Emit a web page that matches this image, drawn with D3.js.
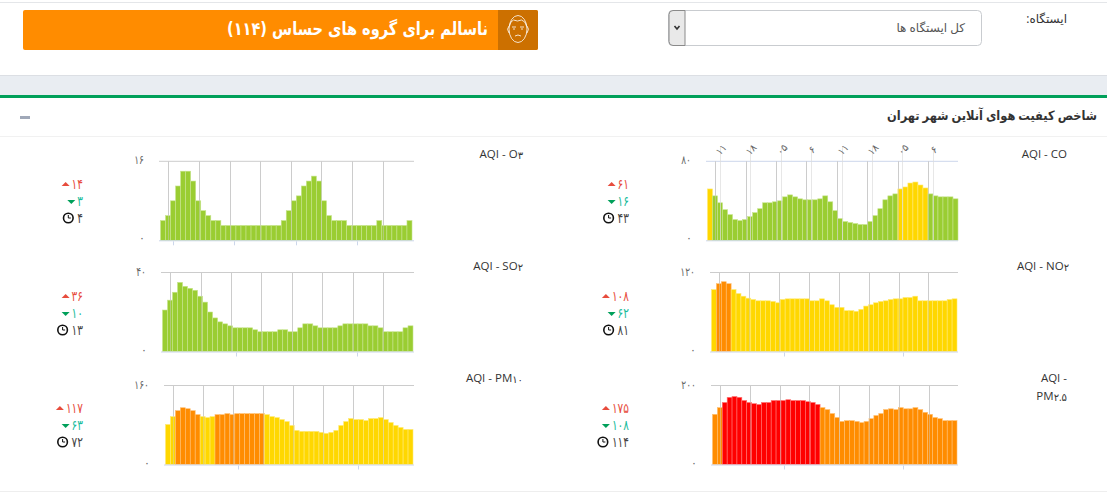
<!DOCTYPE html>
<html><head><meta charset="utf-8">
<script src="https://cdn.jsdelivr.net/npm/d3@7"></script>
<style>
html,body{margin:0;padding:0;background:#fff;overflow:hidden}
svg{display:block}
text{font-family:"Open Sans","Noto Sans","DejaVu Sans",sans-serif}
</style></head><body><svg id="c" width="1107" height="493"></svg>
<script>
const G="#9acd32",Y="#ffd700",O="#ff8c00",R="#ff0000";
const colorOf=(bands,i)=>{for(const b of bands){if(i>=b[0]&&i<=b[1])return b[2];}return null;};

const coValues=[52,45,38,31,26,21,20,21,24,28,32,38,38,39,40,44,46,44,42,41,41,41,42,45,39,30,22,19,18,17,16,16,19,25,32,41,45,47,52,54,58,59,56,53,47,45,44,44,44,42];
const coBands=[[0,0,Y],[38,43,Y]];
const no2Values=[94,103,106,103,94,88,84,81,79,77,77,77,76,74,79,80,80,80,80,80,77,77,80,77,71,67,67,62,62,61,64,69,71,74,76,77,79,80,80,82,82,84,77,77,77,77,77,77,79,80];
const no2Bands=[[1,3,O]];
const pmValues=[127,144,157,170,172,170,162,157,154,152,157,157,162,162,162,164,162,162,162,159,157,152,144,139,129,119,109,111,111,109,106,109,116,124,129,139,141,139,144,141,141,144,139,132,127,119,116,111,111,111];
const pmBands=[[0,1,O],[2,21,R],[22,49,O]];
const o3Values=[4,5,8,11,14,14,12,8,6,5,4,4,3,3,3,3,3,3,3,3,3,3,3,3,4,6,8,9,11,12,13,12,8,5,4,4,4,3,3,3,3,3,3,4,3,3,3,3,3,4];
const so2Values=[21,26,30,35,33,32,31,28,25,20,17,15,14,13,12,12,12,12,11,10,10,10,10,11,11,10,10,12,14,14,13,12,12,12,12,13,14,14,14,14,14,13,13,12,10,10,10,10,12,13];
const pm10Values=[81,97,109,115,113,109,101,97,95,97,101,101,103,101,103,103,103,103,103,103,101,97,95,91,87,79,69,67,67,67,67,65,63,65,69,79,87,93,91,91,89,93,93,95,91,85,79,75,71,71];
const pm10Bands=[[2,6,O],[10,19,O]];

const charts=[
 {lab:[["AQI - CO",""]],vals:coValues,max:80,maxT:"۸۰",bands:coBands,base:G,x0:707.5,x1:958,t:161.3,b:240.3,ax0:706,ax1:958,topCol:"#ccd6eb",stats:["۶۱","۱۶","۴۳"],sx:629,sy:184,ly:158,lx:1067,grid:[715.5,746.5,776.5,806.5,837.5,867.5,898.5,928.5],ticks:[]},
 {lab:[["AQI - NO","۲"]],vals:no2Values,max:120,maxT:"۱۲۰",bands:no2Bands,base:Y,x0:711.5,x1:957,t:272.5,b:351.5,ax0:710,ax1:958,topCol:"#cccccc",stats:["۱۰۸","۶۲","۸۱"],sx:629,sy:296,ly:270,lx:1069,grid:[719.5,749.5,779.5,809.5,839.5,869.5,899.5,928.5],ticks:[784.5,903.5]},
 {lab:[["AQI -",""],["PM","۲.۵"]],vals:pmValues,max:200,maxT:"۲۰۰",bands:pmBands,base:O,x0:712.5,x1:957,t:385.5,b:464.5,ax0:711,ax1:958,topCol:"#cccccc",stats:["۱۷۵","۱۰۸","۱۱۴"],sx:629,sy:408,ly:382,lx:1067,grid:[720.5,750.5,780.5,809.5,839.5,869.5,899.5,929.5],ticks:[784.5,903.5]},
 {lab:[["AQI - O","۳"]],vals:o3Values,max:16,maxT:"۱۶",bands:[],base:G,x0:160.5,x1:412,t:161.3,b:240.3,ax0:159,ax1:414,topCol:"#cccccc",stats:["۱۴","۳","۴"],sx:83,sy:184,ly:158,lx:523,grid:[168.5,199.5,230.5,260.5,291.5,321.5,352.5,383.5],ticks:[173.5,234.5,296.5,357.5]},
 {lab:[["AQI - SO","۲"]],vals:so2Values,max:40,maxT:"۴۰",bands:[],base:G,x0:162.5,x1:413,t:272.5,b:351.5,ax0:161,ax1:414,topCol:"#cccccc",stats:["۳۶","۱۰","۱۳"],sx:83,sy:296,ly:270,lx:523,grid:[170.5,201.5,231.5,261.5,292.5,322.5,353.5,383.5],ticks:[236.5,357.5]},
 {lab:[["AQI - PM","۱۰"]],vals:pm10Values,max:160,maxT:"۱۶۰",bands:pm10Bands,base:Y,x0:165.5,x1:413,t:385.5,b:464.5,ax0:164,ax1:414,topCol:"#cccccc",stats:["۱۱۷","۶۳","۷۲"],sx:83,sy:408,ly:382,lx:523,grid:[173.5,203.5,233.5,263.5,293.5,323.5,353.5,383.5],ticks:[238.5,358.5]}
];
const topLabels=["۱۱","۱۸","۰۵","۶","۱۱","۱۸","۰۵","۶"];
const topGrid=[720.5,750.5,781.5,811.5,842.5,872.5,902.5,933.5];

const svg=d3.select("#c");
svg.append("rect").attr("x",0).attr("y",2).attr("width",1107).attr("height",1).attr("fill","#e4e6e9");
svg.append("rect").attr("x",0).attr("y",75).attr("width",1107).attr("height",20).attr("fill","#e9edf2");
svg.append("rect").attr("x",0).attr("y",75).attr("width",1107).attr("height",1).attr("fill","#dcdfe4");
svg.append("rect").attr("x",0).attr("y",95).attr("width",1107).attr("height",3).attr("fill","#00a05a");
svg.append("rect").attr("x",0).attr("y",136).attr("width",1107).attr("height",1).attr("fill","#f1f1f1");
svg.append("rect").attr("x",0).attr("y",491).attr("width",1107).attr("height",1).attr("fill","#eeeeee");
// banner
svg.append("rect").attr("x",23).attr("y",10).attr("width",515).attr("height",40).attr("rx",2).attr("fill","#ff8c00");
svg.append("path").attr("d","M498 10H536a2 2 0 0 1 2 2V48a2 2 0 0 1-2 2H498Z").attr("fill","#cc7000");
const face=svg.append("g").attr("fill","none").attr("stroke","#fff").attr("stroke-width",0.8);
face.append("ellipse").attr("cx",518).attr("cy",29).attr("rx",9).attr("ry",13.5);
face.append("path").attr("d","M509.5 26q1-5 4-6q4 2 8 0q4 1 5 6M509 26q-3 3 0 7M527 26q3 3 0 7M512 27h4M520 27h4M513 29h2M521 29h2M515 36q3-2 6 0");
svg.append("text").attr("x",488).attr("y",35).attr("text-anchor","start").attr("direction","rtl").attr("fill","#fff").attr("font-size",18).attr("font-weight",700).attr("style",'font-family:"DejaVu Sans",sans-serif').attr("textLength",261).attr("lengthAdjust","spacingAndGlyphs").text("ناسالم برای گروه های حساس (۱۱۴)");
// select
svg.append("rect").attr("x",668.5).attr("y",10.5).attr("width",313).attr("height",35).attr("rx",4).attr("fill","#fff").attr("stroke","#c9ccd0");
svg.append("path").attr("d","M673 10.5H685V45.5H673a4 4 0 0 1-4-4V14.5a4 4 0 0 1 4-4Z").attr("fill","#e9e9e9").attr("stroke","#8a8a8a");
svg.append("path").attr("d","M674.5 26l2.5 3l2.5-3").attr("fill","none").attr("stroke","#333").attr("stroke-width",1.6);
svg.append("text").attr("x",965).attr("y",32).attr("text-anchor","start").attr("fill","#555").attr("font-size",12).attr("direction","rtl").text("کل ایستگاه ها");
svg.append("text").attr("x",1067).attr("y",23).attr("text-anchor","start").attr("fill","#333").attr("font-size",12).attr("direction","rtl").text("ایستگاه:");
svg.append("text").attr("x",1097).attr("y",120).attr("text-anchor","start").attr("fill","#333").attr("font-size",13).attr("font-weight",700).attr("direction","rtl").attr("textLength",210).attr("lengthAdjust","spacingAndGlyphs").text("شاخص کیفیت هوای آنلاین شهر تهران");
svg.append("rect").attr("x",20).attr("y",116).attr("width",10).attr("height",3).attr("fill","#a0a8b8");

charts.forEach(c=>{
 const g=svg.append("g");
 const x=d3.scaleBand().domain(d3.range(c.vals.length)).range([c.x0,c.x1]).paddingInner(0);
 const y=d3.scaleLinear().domain([0,c.max]).range([c.b,c.t]);
 g.append("line").attr("x1",c.ax0).attr("x2",c.ax1).attr("y1",c.t).attr("y2",c.t).attr("stroke",c.topCol);
 const gridG=g.append("g");
 c.grid.forEach(v=>gridG.append("line").attr("x1",v).attr("x2",v).attr("y1",c.t).attr("y2",c.b).attr("stroke","#cccccc"));
 g.append("g").selectAll("rect").data(c.vals).join("rect")
  .attr("x",(d,i)=>x(i)).attr("width",x.bandwidth()).attr("y",d=>y(d)).attr("height",d=>c.b-y(d))
  .attr("fill",(d,i)=>colorOf(c.bands,i)||c.base)
  .attr("stroke",(d,i)=>d3.interpolateRgb(colorOf(c.bands,i)||c.base,"#fff")(0.45)).attr("stroke-width",0.6);
 const over=g.append("g").attr("opacity",0.45);
 c.grid.forEach(v=>over.append("line").attr("x1",v).attr("x2",v).attr("y1",c.t).attr("y2",c.b).attr("stroke","#cccccc"));
 g.append("line").attr("x1",c.ax0).attr("x2",c.ax1).attr("y1",c.b+.5).attr("y2",c.b+.5).attr("stroke","#ccd6eb");
 c.ticks.forEach(v=>g.append("line").attr("x1",v).attr("x2",v).attr("y1",c.b+1).attr("y2",c.b+5).attr("stroke","#ccd6eb"));
 g.append("text").attr("x",c.ax0-15).attr("y",c.t+3).attr("text-anchor","end").attr("fill","#666").attr("font-size",12).attr("textLength",c.maxT.length*4.9).attr("lengthAdjust","spacingAndGlyphs").text(c.maxT);
 g.append("text").attr("x",c.ax0-14).attr("y",c.b+2).attr("text-anchor","end").attr("fill","#666").attr("font-size",11).text("۰");
 c.lab.forEach((t,i)=>{
  const tx=g.append("text").attr("x",c.lx).attr("y",c.ly+i*18).attr("text-anchor","end").attr("fill","#333").attr("font-size",11.5);
  tx.append("tspan").text(t[0]);
  if(t[1]) tx.append("tspan").attr("font-size",10).attr("dy",1).text(t[1]);
 });
 const cols=["#e74c3c","#1abc9c","#444"];
 c.stats.forEach((s,i)=>{
  const yy=c.sy+i*17;
  const w=s.length*5.7;
  g.append("text").attr("x",c.sx).attr("y",yy+5).attr("text-anchor","end").attr("fill",cols[i]).attr("font-size",14).attr("textLength",w).attr("lengthAdjust","spacingAndGlyphs").text(s);
  const ax=c.sx-w-(i==2?10:6);
  if(i==0) g.append("path").attr("d",`M${ax-4} ${yy+2}h8l-4-4z`).attr("fill","#e74c3c");
  if(i==1) g.append("path").attr("d",`M${ax-4} ${yy-1}h8l-4 4z`).attr("fill","#00a05a");
  if(i==2){g.append("circle").attr("cx",ax+1).attr("cy",yy).attr("r",4.8).attr("fill","none").attr("stroke","#111").attr("stroke-width",1.6);
   g.append("path").attr("d",`M${ax+1} ${yy-3}v3h2.5`).attr("fill","none").attr("stroke","#111");}
 });
});
const tg=svg.append("g");
topGrid.forEach((v,i)=>{
 tg.append("line").attr("x1",v).attr("x2",v).attr("y1",146).attr("y2",240).attr("stroke","#dddddd").attr("opacity",.7);
 tg.append("text").attr("transform",`translate(${v+3},152) rotate(-45)`).attr("text-anchor","middle").attr("fill","#666").attr("font-size",10).text(topLabels[i]);
});
</script></body></html>
